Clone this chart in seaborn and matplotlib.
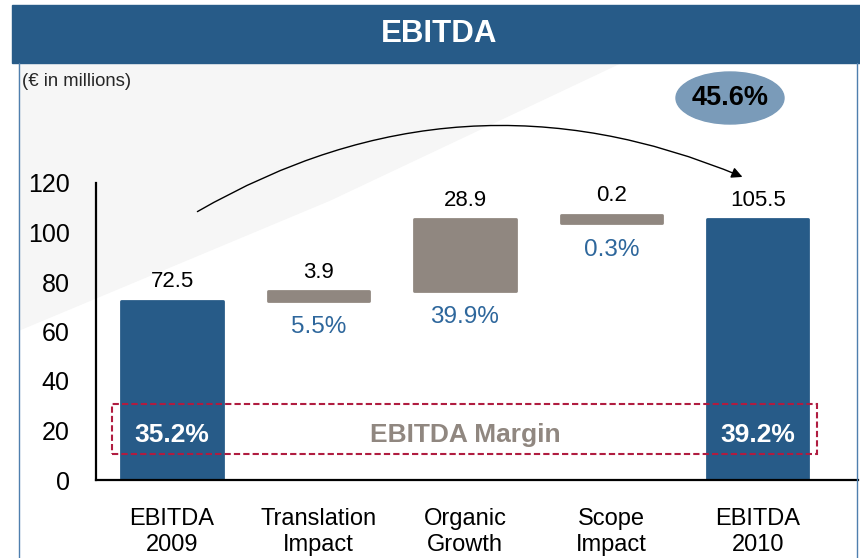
import numpy as np
import pandas as pd
import seaborn as sns
import matplotlib.pyplot as plt
from matplotlib.patches import Rectangle, Ellipse, FancyArrowPatch, Polygon

# chart values
categories = ["EBITDA\n2009", "Translation\nImpact", "Organic\nGrowth", "Scope\nImpact", "EBITDA\n2010"]
totals = [72.5, 105.5]          # EBITDA 2009 / 2010
changes = [3.9, 28.9, 0.2]      # bridge steps
change_pct = ["5.5%", "39.9%", "0.3%"]
margins = ["35.2%", "39.2%"]
growth = "45.6%"
yticks = [0, 20, 40, 60, 80, 100, 120]

BLUE = "#275B88"
GRAY = "#908780"
PCT_BLUE = "#2E679C"
RED = "#B01C40"

sns.set_theme(style="white")
plt.rcParams["font.family"] = ["Liberation Sans", "DejaVu Sans"]

fig = plt.figure(figsize=(8.6, 5.58), dpi=100)
fig.patch.set_facecolor("white")

# faint background swoosh
W, H = 860, 558
swoosh = [(19, 63), (620, 63), (330, 200), (19, 330)]
fig.add_artist(Polygon([(x / W, 1 - y / H) for x, y in swoosh], closed=True,
                       transform=fig.transFigure, color="#F6F6F6", zorder=-1))

ax = fig.add_axes([96 / W, 78 / H, 762 / W, 297 / H])
ax.set_facecolor("none")

# totals
tot_df = pd.DataFrame({"category": [categories[0], categories[-1]], "value": totals})
sns.barplot(data=tot_df, x="category", y="value", order=categories, color=BLUE,
            saturation=1, width=0.69, errorbar=None, linewidth=2, edgecolor=BLUE, ax=ax)

# floating steps (tiny steps get a minimum visible thickness)
chg = np.array(changes)
starts = totals[0] + np.concatenate([[0], np.cumsum(chg)[:-1]])
shown = np.maximum(chg, 3.5)
bottoms = starts + chg / 2 - shown / 2
chg_df = pd.DataFrame({"category": categories[1:4], "shown": shown})
sns.barplot(data=chg_df, x="category", y="shown", order=categories, bottom=bottoms,
            color=GRAY, saturation=1, width=0.69, errorbar=None, linewidth=2,
            edgecolor=GRAY, ax=ax)

for p in ax.patches:
    p.set_joinstyle("round")

# value labels
for i, v in zip([0, 4], totals):
    ax.annotate(f"{v}", (i, v), xytext=(0, 6), textcoords="offset points",
                ha="center", va="bottom", fontsize=16, color="black")
for k, (v, b, s, pct) in enumerate(zip(changes, bottoms, shown, change_pct)):
    ax.annotate(f"{v}", (k + 1, b + s), xytext=(0, 6), textcoords="offset points",
                ha="center", va="bottom", fontsize=16, color="black")
    ax.annotate(pct, (k + 1, b), xytext=(0, -11), textcoords="offset points",
                ha="center", va="top", fontsize=17.5, color=PCT_BLUE)

# margin box
ax.add_patch(Rectangle((-0.41, 10.5), 4.81, 20.2, fill=False, edgecolor=RED,
                       lw=1.5, linestyle=(0, (3, 1.5)), clip_on=False, zorder=5))
for i, m in zip([0, 4], margins):
    ax.text(i, 18.2, m, ha="center", va="center", fontsize=19, fontweight="bold",
            color="white", zorder=6)
ax.text(2, 18.2, "EBITDA Margin", ha="center", va="center", fontsize=19,
        fontweight="bold", color=GRAY, zorder=6)

# axes styling
ax.set_xlim(-0.519, 4.683)
ax.set_ylim(0, 120)
ax.set_yticks(yticks)
ax.set_xlabel("")
ax.set_ylabel("")
sns.despine(ax=ax)
for side in ["left", "bottom"]:
    ax.spines[side].set_color("black")
    ax.spines[side].set_linewidth(1.6)
ax.tick_params(axis="y", length=0, pad=19, labelsize=18, labelcolor="black")
ax.tick_params(axis="x", length=0, pad=20, labelsize=17, labelcolor="black")
for lab in ax.get_xticklabels():
    lab.set_linespacing(1.22)

# title bar, frame and notes
fig.add_artist(Rectangle((12 / W, 1 - 63 / H), 1 - 12 / W, 58 / H,
                         transform=fig.transFigure, color=BLUE, zorder=0))
fig.text(439 / W, 1 - 34 / H, "EBITDA", ha="center", va="center", color="white",
         fontsize=22.5, fontweight="bold")
for xp in [19 / W, 857 / W]:
    fig.add_artist(plt.Line2D([xp, xp], [0, 1 - 63 / H], transform=fig.transFigure,
                              color="#4F7FAE", lw=1))
fig.text(22 / W, 1 - 82 / H, "(€ in millions)", ha="left", va="center",
         fontsize=13.3)

fig.add_artist(Ellipse((730 / W, 1 - 98 / H), 108 / W, 52 / H,
                       transform=fig.transFigure, color="#7A9BB9", zorder=3))
fig.text(730 / W, 1 - 98 / H, growth, ha="center", va="center", fontsize=19.5,
         fontweight="bold", color="black", zorder=4)

fig.add_artist(FancyArrowPatch((195 / W, 1 - 213 / H), (745 / W, 1 - 178 / H),
                               transform=fig.transFigure, connectionstyle="arc3,rad=-0.25",
                               arrowstyle="-|>", mutation_scale=16, lw=1, color="black"))

fig.savefig("out.png", dpi=100)
